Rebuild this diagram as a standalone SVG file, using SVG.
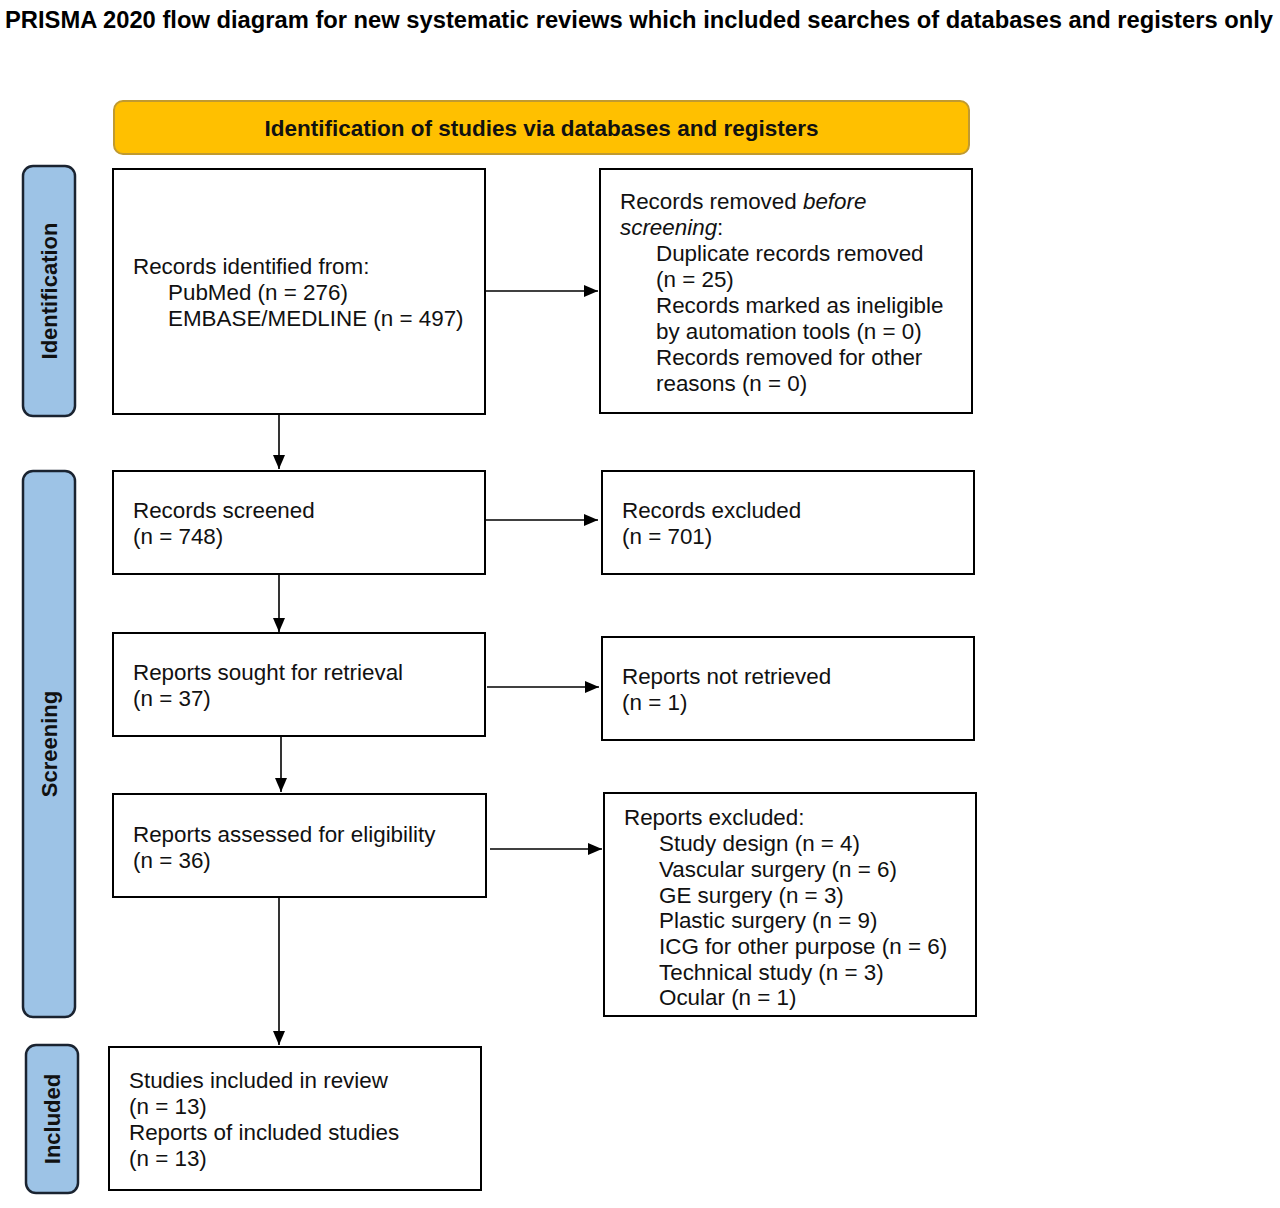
<svg xmlns="http://www.w3.org/2000/svg" width="1280" height="1208" viewBox="0 0 1280 1208">
<style>
.box{fill:#fff;stroke:#000;stroke-width:2}
.side{fill:#9DC3E6;stroke:#1a2330;stroke-width:2.5}
.t{font-family:"Liberation Sans",Arial,sans-serif;font-size:22.4px;fill:#111}
.b{font-family:"Liberation Sans",Arial,sans-serif;font-size:22px;font-weight:bold;fill:#111}
.c{stroke:#000;stroke-width:1.6;fill:none;marker-end:url(#ah)}
</style>
<defs>
<marker id="ah" viewBox="0 0 14 12" refX="14" refY="6" markerWidth="14" markerHeight="12" markerUnits="userSpaceOnUse" orient="auto">
<path d="M0,0 L14,6 L0,12 z" fill="#000"/>
</marker>
</defs>
<rect width="1280" height="1208" fill="#fff"/>
<text x="5" y="28" font-family="'Liberation Sans',Arial,sans-serif" font-size="23.5" font-weight="bold" fill="#000" textLength="1268" lengthAdjust="spacingAndGlyphs">PRISMA 2020 flow diagram for new systematic reviews which included searches of databases and registers only</text>

<g id="header">
<rect x="114" y="101" width="855" height="53" rx="9" fill="#FFC000" stroke="#C09A30" stroke-width="2"/>
<text class="b" x="541.5" y="136" text-anchor="middle" style="font-size:22.5px">Identification of studies via databases and registers</text>
</g>

<g id="side-identification">
<rect class="side" x="23" y="166" width="52" height="250" rx="10"/>
<text class="b" transform="translate(57,291) rotate(-90)" text-anchor="middle">Identification</text>
</g>
<g id="side-screening">
<rect class="side" x="23" y="471" width="52" height="546" rx="10"/>
<text class="b" transform="translate(57,744) rotate(-90)" text-anchor="middle">Screening</text>
</g>
<g id="side-included">
<rect class="side" x="26" y="1045" width="52" height="148" rx="10"/>
<text class="b" transform="translate(60,1119) rotate(-90)" text-anchor="middle">Included</text>
</g>

<g id="records-identified">
<rect class="box" x="113" y="169" width="372" height="245"/>
<text class="t" x="133" y="274">Records identified from:</text>
<text class="t" x="168" y="300">PubMed (n = 276)</text>
<text class="t" x="168" y="326">EMBASE/MEDLINE (n = 497)</text>
</g>

<g id="records-removed">
<rect class="box" x="600" y="169" width="372" height="244"/>
<text class="t" x="620" y="209">Records removed <tspan font-style="italic">before</tspan></text>
<text class="t" x="620" y="235"><tspan font-style="italic">screening</tspan>:</text>
<text class="t" x="656" y="261">Duplicate records removed</text>
<text class="t" x="656" y="287">(n = 25)</text>
<text class="t" x="656" y="313">Records marked as ineligible</text>
<text class="t" x="656" y="339">by automation tools (n = 0)</text>
<text class="t" x="656" y="365">Records removed for other</text>
<text class="t" x="656" y="391">reasons (n = 0)</text>
</g>

<g id="records-screened">
<rect class="box" x="113" y="471" width="372" height="103"/>
<text class="t" x="133" y="518">Records screened</text>
<text class="t" x="133" y="544">(n = 748)</text>
</g>

<g id="records-excluded">
<rect class="box" x="602" y="471" width="372" height="103"/>
<text class="t" x="622" y="518">Records excluded</text>
<text class="t" x="622" y="544">(n = 701)</text>
</g>

<g id="reports-sought">
<rect class="box" x="113" y="633" width="372" height="103"/>
<text class="t" x="133" y="680">Reports sought for retrieval</text>
<text class="t" x="133" y="706">(n = 37)</text>
</g>

<g id="reports-not-retrieved">
<rect class="box" x="602" y="637" width="372" height="103"/>
<text class="t" x="622" y="684">Reports not retrieved</text>
<text class="t" x="622" y="710">(n = 1)</text>
</g>

<g id="reports-assessed">
<rect class="box" x="113" y="794" width="373" height="103"/>
<text class="t" x="133" y="842">Reports assessed for eligibility</text>
<text class="t" x="133" y="868">(n = 36)</text>
</g>

<g id="reports-excluded">
<rect class="box" x="604" y="793" width="372" height="223"/>
<text class="t" x="624" y="825">Reports excluded:</text>
<text class="t" x="659" y="851">Study design (n = 4)</text>
<text class="t" x="659" y="877">Vascular surgery (n = 6)</text>
<text class="t" x="659" y="903">GE surgery (n = 3)</text>
<text class="t" x="659" y="928">Plastic surgery (n = 9)</text>
<text class="t" x="659" y="954">ICG for other purpose (n = 6)</text>
<text class="t" x="659" y="980">Technical study (n = 3)</text>
<text class="t" x="659" y="1005">Ocular (n = 1)</text>
</g>

<g id="studies-included">
<rect class="box" x="109" y="1047" width="372" height="143"/>
<text class="t" x="129" y="1088">Studies included in review</text>
<text class="t" x="129" y="1114">(n = 13)</text>
<text class="t" x="129" y="1140">Reports of included studies</text>
<text class="t" x="129" y="1166">(n = 13)</text>
</g>

<g id="connectors">
<path class="c" d="M485,291 H598"/>
<path class="c" d="M279,414 V469"/>
<path class="c" d="M485,520 H598"/>
<path class="c" d="M279,574 V632"/>
<path class="c" d="M487,687 H599"/>
<path class="c" d="M281,736 V792"/>
<path class="c" d="M490,849 H602"/>
<path class="c" d="M279,897 V1045"/>
</g>
</svg>
